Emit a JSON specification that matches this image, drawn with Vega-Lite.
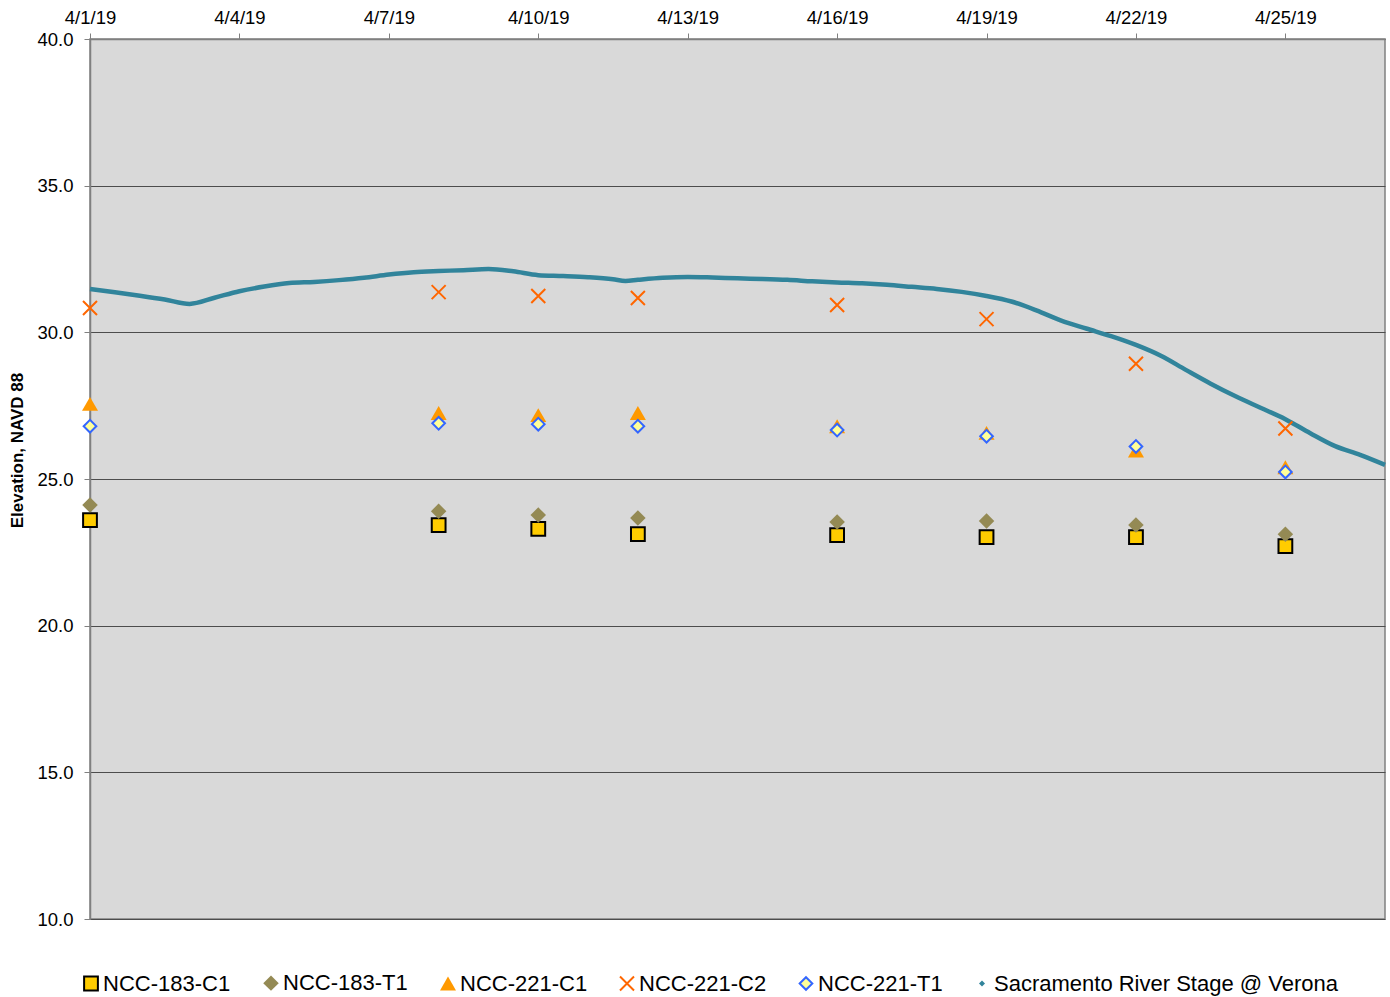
{
  "$schema": "https://vega.github.io/schema/vega-lite/v6.json",
  "autosize": {"type": "none"},
  "width": 1295,
  "height": 880,
  "padding": {"left": 90, "top": 39, "right": 5, "bottom": 78},
  "background": "white",
  "config": {
    "font": "Liberation Sans",
    "view": {"stroke": "#808080", "strokeWidth": 1.5, "fill": "#D9D9D9"}
  },
  "datasets": {
    "wells": [
      {"date": "2019-04-01T00:00", "series": "NCC-183-C1", "value": 23.60},
      {"date": "2019-04-01T00:00", "series": "NCC-183-T1", "value": 24.11},
      {"date": "2019-04-01T00:00", "series": "NCC-221-C1", "value": 27.56},
      {"date": "2019-04-01T00:00", "series": "NCC-221-C2", "value": 30.83},
      {"date": "2019-04-01T00:00", "series": "NCC-221-T1", "value": 26.80},
      {"date": "2019-04-08T00:00", "series": "NCC-183-C1", "value": 23.43},
      {"date": "2019-04-08T00:00", "series": "NCC-183-T1", "value": 23.90},
      {"date": "2019-04-08T00:00", "series": "NCC-221-C1", "value": 27.25},
      {"date": "2019-04-08T00:00", "series": "NCC-221-C2", "value": 31.37},
      {"date": "2019-04-08T00:00", "series": "NCC-221-T1", "value": 26.90},
      {"date": "2019-04-10T00:00", "series": "NCC-183-C1", "value": 23.30},
      {"date": "2019-04-10T00:00", "series": "NCC-183-T1", "value": 23.77},
      {"date": "2019-04-10T00:00", "series": "NCC-221-C1", "value": 27.18},
      {"date": "2019-04-10T00:00", "series": "NCC-221-C2", "value": 31.24},
      {"date": "2019-04-10T00:00", "series": "NCC-221-T1", "value": 26.87},
      {"date": "2019-04-12T00:00", "series": "NCC-183-C1", "value": 23.12},
      {"date": "2019-04-12T00:00", "series": "NCC-183-T1", "value": 23.67},
      {"date": "2019-04-12T00:00", "series": "NCC-221-C1", "value": 27.25},
      {"date": "2019-04-12T00:00", "series": "NCC-221-C2", "value": 31.17},
      {"date": "2019-04-12T00:00", "series": "NCC-221-T1", "value": 26.80},
      {"date": "2019-04-16T00:00", "series": "NCC-183-C1", "value": 23.09},
      {"date": "2019-04-16T00:00", "series": "NCC-183-T1", "value": 23.53},
      {"date": "2019-04-16T00:00", "series": "NCC-221-C1", "value": 26.80},
      {"date": "2019-04-16T00:00", "series": "NCC-221-C2", "value": 30.93},
      {"date": "2019-04-16T00:00", "series": "NCC-221-T1", "value": 26.67},
      {"date": "2019-04-19T00:00", "series": "NCC-183-C1", "value": 23.02},
      {"date": "2019-04-19T00:00", "series": "NCC-183-T1", "value": 23.57},
      {"date": "2019-04-19T00:00", "series": "NCC-221-C1", "value": 26.57},
      {"date": "2019-04-19T00:00", "series": "NCC-221-C2", "value": 30.45},
      {"date": "2019-04-19T00:00", "series": "NCC-221-T1", "value": 26.46},
      {"date": "2019-04-22T00:00", "series": "NCC-183-C1", "value": 23.02},
      {"date": "2019-04-22T00:00", "series": "NCC-183-T1", "value": 23.43},
      {"date": "2019-04-22T00:00", "series": "NCC-221-C1", "value": 25.97},
      {"date": "2019-04-22T00:00", "series": "NCC-221-C2", "value": 28.93},
      {"date": "2019-04-22T00:00", "series": "NCC-221-T1", "value": 26.11},
      {"date": "2019-04-25T00:00", "series": "NCC-183-C1", "value": 22.71},
      {"date": "2019-04-25T00:00", "series": "NCC-183-T1", "value": 23.12},
      {"date": "2019-04-25T00:00", "series": "NCC-221-C1", "value": 25.40},
      {"date": "2019-04-25T00:00", "series": "NCC-221-C2", "value": 26.72},
      {"date": "2019-04-25T00:00", "series": "NCC-221-T1", "value": 25.24}
    ],
    "river": [
      {"date": "2019-04-01T00:00", "value": 31.48},
      {"date": "2019-04-01T12:00", "value": 31.37},
      {"date": "2019-04-02T00:00", "value": 31.25},
      {"date": "2019-04-02T12:00", "value": 31.12},
      {"date": "2019-04-03T00:00", "value": 30.97},
      {"date": "2019-04-03T12:00", "value": 31.18},
      {"date": "2019-04-04T00:00", "value": 31.40},
      {"date": "2019-04-04T12:00", "value": 31.56},
      {"date": "2019-04-05T00:00", "value": 31.68},
      {"date": "2019-04-05T12:00", "value": 31.72},
      {"date": "2019-04-06T00:00", "value": 31.78},
      {"date": "2019-04-06T12:00", "value": 31.86},
      {"date": "2019-04-07T00:00", "value": 31.97},
      {"date": "2019-04-07T12:00", "value": 32.05},
      {"date": "2019-04-08T00:00", "value": 32.09},
      {"date": "2019-04-08T12:00", "value": 32.12},
      {"date": "2019-04-09T00:00", "value": 32.16},
      {"date": "2019-04-09T12:00", "value": 32.08},
      {"date": "2019-04-10T00:00", "value": 31.95},
      {"date": "2019-04-10T12:00", "value": 31.92},
      {"date": "2019-04-11T00:00", "value": 31.88},
      {"date": "2019-04-11T12:00", "value": 31.81},
      {"date": "2019-04-11T18:00", "value": 31.75},
      {"date": "2019-04-12T00:00", "value": 31.79},
      {"date": "2019-04-12T12:00", "value": 31.86},
      {"date": "2019-04-13T00:00", "value": 31.89},
      {"date": "2019-04-13T12:00", "value": 31.87},
      {"date": "2019-04-14T00:00", "value": 31.84},
      {"date": "2019-04-14T12:00", "value": 31.82},
      {"date": "2019-04-15T00:00", "value": 31.79},
      {"date": "2019-04-15T12:00", "value": 31.74},
      {"date": "2019-04-16T00:00", "value": 31.70},
      {"date": "2019-04-16T12:00", "value": 31.67},
      {"date": "2019-04-17T00:00", "value": 31.62},
      {"date": "2019-04-17T12:00", "value": 31.55},
      {"date": "2019-04-18T00:00", "value": 31.48},
      {"date": "2019-04-18T12:00", "value": 31.38},
      {"date": "2019-04-19T00:00", "value": 31.24},
      {"date": "2019-04-19T12:00", "value": 31.05},
      {"date": "2019-04-20T00:00", "value": 30.75},
      {"date": "2019-04-20T12:00", "value": 30.40},
      {"date": "2019-04-21T00:00", "value": 30.13},
      {"date": "2019-04-21T12:00", "value": 29.87},
      {"date": "2019-04-22T00:00", "value": 29.57},
      {"date": "2019-04-22T12:00", "value": 29.20},
      {"date": "2019-04-23T00:00", "value": 28.72},
      {"date": "2019-04-23T12:00", "value": 28.25},
      {"date": "2019-04-24T00:00", "value": 27.82},
      {"date": "2019-04-24T12:00", "value": 27.43},
      {"date": "2019-04-25T00:00", "value": 27.04},
      {"date": "2019-04-25T12:00", "value": 26.56},
      {"date": "2019-04-26T00:00", "value": 26.12},
      {"date": "2019-04-26T12:00", "value": 25.82},
      {"date": "2019-04-27T00:00", "value": 25.48}
    ]
  },
  "encoding": {
    "x": {
      "field": "date",
      "type": "temporal",
      "scale": {"domain": [{"year": 2019, "month": 4, "date": 1}, {"year": 2019, "month": 4, "date": 27}]},
      "axis": {
        "orient": "top",
        "title": null,
        "format": "%-m/%-d/%y",
        "values": [
          {"year": 2019, "month": 4, "date": 1},
          {"year": 2019, "month": 4, "date": 4},
          {"year": 2019, "month": 4, "date": 7},
          {"year": 2019, "month": 4, "date": 10},
          {"year": 2019, "month": 4, "date": 13},
          {"year": 2019, "month": 4, "date": 16},
          {"year": 2019, "month": 4, "date": 19},
          {"year": 2019, "month": 4, "date": 22},
          {"year": 2019, "month": 4, "date": 25}
        ],
        "grid": false,
        "labelFontSize": 18.5,
        "labelColor": "#000000",
        "labelPadding": 6,
        "labelFlush": false,
        "labelOverlap": false,
        "tickSize": 6,
        "tickColor": "#808080",
        "domainColor": "#808080",
        "domainWidth": 1.5
      }
    },
    "y": {
      "field": "value",
      "type": "quantitative",
      "scale": {"domain": [10, 40], "zero": false, "nice": false},
      "axis": {
        "title": "Elevation, NAVD 88",
        "titleFontSize": 17,
        "titleFontWeight": "bold",
        "titleColor": "#000000",
        "titleX": -64,
        "titleY": 411,
        "values": [10, 15, 20, 25, 30, 35, 40],
        "format": ".1f",
        "labelFontSize": 18.5,
        "labelColor": "#000000",
        "labelPadding": 11,
        "tickSize": 6,
        "tickColor": "#808080",
        "domainColor": "#808080",
        "domainWidth": 1.5,
        "grid": true,
        "gridColor": "#4D4D4D",
        "gridWidth": 1.2
      }
    }
  },
  "layer": [
    {
      "data": {"name": "river"},
      "mark": {"type": "line", "color": "#31849B", "strokeWidth": 4.5, "interpolate": "monotone"},
      "encoding": {}
    },
    {
      "data": {"name": "wells"},
      "mark": {"type": "point", "filled": true, "opacity": 1, "strokeWidth": 2},
      "encoding": {
        "shape": {
          "field": "series", "type": "ordinal",
          "scale": {
            "type": "ordinal",
            "domain": ["NCC-183-C1", "NCC-183-T1", "NCC-221-C1", "NCC-221-C2", "NCC-221-T1", "Sacramento River Stage @ Verona"],
            "range": ["square", "diamond", "triangle-up", "M-1,-1L1,1M-1,1L1,-1", "diamond", "diamond"]
          },
          "legend": {
            "title": null,
            "orient": "none",
            "legendX": -10,
            "legendY": 933,
            "direction": "horizontal",
            "columns": 6,
            "columnPadding": 28,
            "labelFontSize": 22,
            "labelColor": "#000000",
            "labelOffset": 1,
            "labelLimit": 500,
            "symbolOpacity": 1,
            "symbolStrokeWidth": 2
          }
        },
        "fill": {
          "field": "series", "type": "ordinal",
          "scale": {
            "type": "ordinal",
            "domain": ["NCC-183-C1", "NCC-183-T1", "NCC-221-C1", "NCC-221-C2", "NCC-221-T1", "Sacramento River Stage @ Verona"],
            "range": ["#FFCC00", "#948A54", "#FF9900", "transparent", "#FFFF99", "#31849B"]
          }
        },
        "stroke": {
          "field": "series", "type": "ordinal",
          "scale": {
            "type": "ordinal",
            "domain": ["NCC-183-C1", "NCC-183-T1", "NCC-221-C1", "NCC-221-C2", "NCC-221-T1", "Sacramento River Stage @ Verona"],
            "range": ["#000000", "transparent", "transparent", "#FF6600", "#3366FF", "transparent"]
          }
        },
        "size": {
          "field": "series", "type": "ordinal",
          "scale": {
            "type": "ordinal",
            "domain": ["NCC-183-C1", "NCC-183-T1", "NCC-221-C1", "NCC-221-C2", "NCC-221-T1", "Sacramento River Stage @ Verona"],
            "range": [190, 240, 256, 196, 160, 36]
          }
        }
      }
    }
  ]
}
